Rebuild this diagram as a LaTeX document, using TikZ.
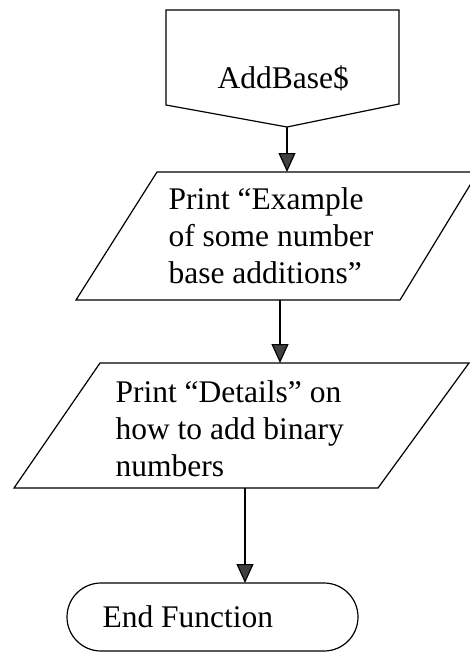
\documentclass[tikz,border=0pt]{standalone}
\usepackage{fontspec}
\setmainfont{Liberation Serif}
\usetikzlibrary{arrows.meta}
\begin{document}
\begin{tikzpicture}[x=1pt, y=-1pt, line width=1.2pt,
    txt/.style={anchor=base west, inner sep=0pt, align=left, font=\fontsize{31.5}{37}\selectfont},
    flow/.style={-{Triangle[length=19pt, width=17pt, fill=black!75]}}]
  \useasboundingbox (0,0) rectangle (470,653);
  \coordinate (A1) at (166,10);
  \coordinate (A2) at (399,10);
  \coordinate (A3) at (399,104);
  \coordinate (A4) at (287,127);
  \coordinate (A5) at (166,105);
  \draw (A1) -- (A2) -- (A3) -- (A4) -- (A5) -- cycle;
  \node[txt] (addbase) at (217,88) {AddBase\$};
  \coordinate (B1) at (157,172);
  \coordinate (B2) at (478,172);
  \coordinate (B3) at (400,300);
  \coordinate (B4) at (76,300);
  \draw (B1) -- (B2) -- (B3) -- (B4) -- cycle;
  \node[txt] (example) at (168,283) {Print “Example\\of some number\\base additions”};
  \coordinate (C1) at (100,363);
  \coordinate (C2) at (469,363);
  \coordinate (C3) at (378,488);
  \coordinate (C4) at (14,488);
  \draw (C1) -- (C2) -- (C3) -- (C4) -- cycle;
  \node[txt] (details) at (115,476) {Print “Details” on\\how to add binary\\numbers};
  \draw[rounded corners=34pt] (67,583) rectangle (358,651);
  \node[txt] (endfn) at (102,627) {End Function};
  \coordinate (b-in) at (287,172);
  \coordinate (b-out) at (280,300);
  \coordinate (c-in) at (280,363);
  \coordinate (c-out) at (245,488);
  \coordinate (d-in) at (245,583);
  \draw[flow] (A4) -- (b-in);
  \draw[flow] (b-out) -- (c-in);
  \draw[flow] (c-out) -- (d-in);
\end{tikzpicture}
\end{document}
